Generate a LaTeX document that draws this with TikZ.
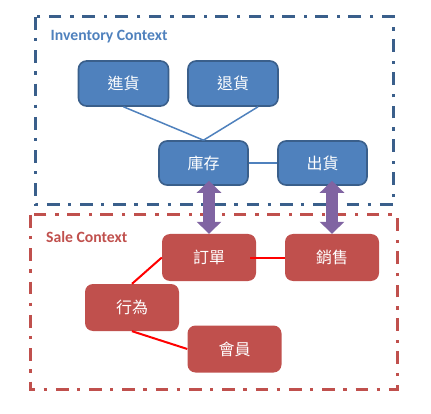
\documentclass[tikz,border=0pt]{standalone}
\usepackage{fontspec}
\setmainfont{Carlito}
\newfontfamily\cjk{Noto Sans CJK TC}
\usetikzlibrary{arrows.meta}
\definecolor{invblue}{HTML}{4F81BD}
\definecolor{invdark}{HTML}{3A5F8B}
\definecolor{salered}{HTML}{C0504D}
\definecolor{arrowpurple}{HTML}{8064A2}
\definecolor{linkred}{HTML}{FF0000}
\tikzset{
  bluebox/.style={draw=invdark, line width=1.6pt, fill=invblue, rounded corners=8pt,
    minimum width=90pt, minimum height=45pt, inner sep=0pt, text=white,
    font=\cjk\fontsize{16}{18}\selectfont},
  redbox/.style={fill=salered, rounded corners=8pt,
    minimum width=94pt, minimum height=47pt, inner sep=0pt, text=white,
    font=\cjk\fontsize{16}{18}\selectfont},
  ctxframe/.style={line width=3pt, dash pattern=on 12.7pt off 8.3pt on 3.3pt off 9pt},
  bluelink/.style={draw=invblue, line width=1.5pt},
  redlink/.style={draw=linkred, line width=2pt},
  dblarrow/.style={draw=arrowpurple, line width=12pt,
    {Triangle[width=24pt,length=12pt]}-{Triangle[width=24pt,length=12pt]}},
  ctxlabel/.style={anchor=base west, inner sep=0pt, font=\bfseries\fontsize{15.7}{18}\selectfont}
}
\begin{document}
\begin{tikzpicture}[x=1pt,y=-1pt]
\useasboundingbox (0,0) rectangle (431,414);
% context frames
\draw[ctxframe, draw=invdark] (35,17) rectangle (393,205);
\draw[ctxframe, draw=salered] (30,215) rectangle (397,389);
\node[ctxlabel, text=invblue] (invlabel) at (50.5,41) {Inventory Context};
\node[ctxlabel, text=salered] (salelabel) at (46,243) {Sale Context};
% inventory nodes
\node[bluebox] (jin) at (123.5,83.5) {進貨};
\node[bluebox] (tui) at (233,83.5) {退貨};
\node[bluebox, minimum width=89pt, minimum height=44pt] (ku) at (203.5,163) {庫存};
\node[bluebox, minimum width=89pt, minimum height=44pt] (chu) at (322.5,163) {出貨};
% sale nodes
\node[redbox] (ding) at (209,257.5) {訂單};
\node[redbox] (xiao) at (332,257.5) {銷售};
\node[redbox] (xing) at (132,307.5) {行為};
\node[redbox] (hui) at (234.5,349) {會員};
% blue connectors
\draw[bluelink] (jin.south) -- (ku.north);
\draw[bluelink] ([xshift=25pt]tui.south) -- (ku.north);
\draw[bluelink] (ku.east) -- (chu.west);
% red connectors
\draw[redlink] (ding.west) -- (xing.north);
\draw[redlink] (xing.south) -- (hui.west);
\draw[redlink] ([xshift=-6pt]ding.east) -- (xiao.west);
% purple double arrows
\coordinate (a1top) at ([yshift=5pt]ding.north |- ku.south);
\coordinate (a2top) at ([yshift=5pt]xiao.north |- chu.south);
\draw[dblarrow] (a1top) -- (ding.north);
\draw[dblarrow] (a2top) -- (xiao.north);
\end{tikzpicture}
\end{document}
